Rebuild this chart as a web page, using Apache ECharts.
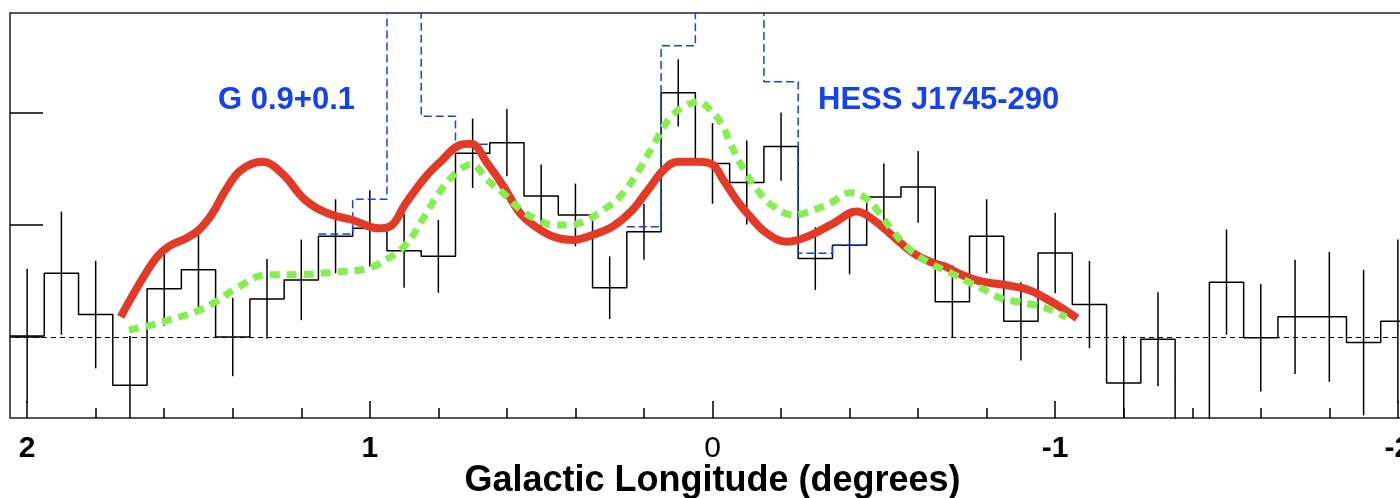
<!DOCTYPE html>
<html>
<head>
<meta charset="utf-8">
<title>Galactic longitude profile</title>
<script src="https://cdn.jsdelivr.net/npm/echarts@6/dist/echarts.min.js"></script>
<style>
  html, body { margin: 0; padding: 0; background: #fff; }
  #chart { width: 1400px; height: 498px; }
</style>
</head>
<body>
<div id="chart"></div>
<script>
// histogram bins (galactic longitude, deg) and excess per bin
const binCenters = [2.0, 1.9, 1.8, 1.7, 1.6, 1.5, 1.4, 1.3, 1.2, 1.1, 1.0, 0.9, 0.8, 0.7, 0.6, 0.5, 0.4, 0.3, 0.2, 0.1, 0.0,
  -0.1, -0.2, -0.3, -0.4, -0.5, -0.6, -0.7, -0.8, -0.9, -1.0, -1.1, -1.2, -1.3, -1.4, -1.5, -1.6, -1.7, -1.8, -1.9, -2.0]
const counts = [0.01, 0.57, 0.20, -0.43, 0.43, 0.60, 0.0, 0.34, 0.51, 0.90, 0.97, 0.77, 0.72, 1.64, 1.735, 1.26, 1.09, 0.44, 0.94, 2.18, 1.55,
  1.38, 1.70, 0.70, 0.82, 1.25, 1.34, 0.315, 0.90, 0.14, 0.75, 0.29, -0.41, -0.02, -1.3, 0.49, -0.006, 0.18, 0.18, -0.05, 0.14]
const countErrors = [0.60, 0.55, 0.48, 0.44, 0.33, 0.335, 0.35, 0.356, 0.36, 0.33, 0.34, 0.33, 0.325, 0.31, 0.30, 0.28, 0.28, 0.28, 0.25, 0.30, 0.36,
  0.375, 0.305, 0.28, 0.26, 0.30, 0.32, 0.325, 0.33, 0.35, 0.36, 0.39, 0.42, 0.42, 0.45, 0.47, 0.48, 0.51, 0.58, 0.65, 0.73]

// bins before source subtraction (blue dashed)
const g09Centers = [1.1, 1.0, 0.9, 0.8, 0.7]
const g09Counts = [0.92, 1.23, 3.6, 1.97, 1.72]
const hessCenters = [0.2, 0.1, 0.0, -0.1, -0.2, -0.3, -0.4]
const hessCounts = [0.985, 2.60, 3.6, 3.6, 2.28, 0.747, 0.821]

// smooth model profiles
const redX = [1.727, 1.683, 1.625, 1.586, 1.537, 1.499, 1.46, 1.421, 1.376, 1.314, 1.256, 1.187, 1.119, 1.051, 0.973, 0.935,
  0.896, 0.837, 0.789, 0.74, 0.705, 0.657, 0.609, 0.56, 0.516, 0.464, 0.407, 0.35, 0.292, 0.238, 0.189, 0.14, 0.101, 0.042,
  0.0, -0.032, -0.071, -0.11, -0.159, -0.217, -0.276, -0.353, -0.421, -0.47, -0.528, -0.587, -0.645, -0.68, -0.729, -0.778,
  -0.855, -0.923, -0.972, -1.021, -1.064]
const redY = [0.18, 0.42, 0.70, 0.81, 0.88, 0.955, 1.10, 1.31, 1.49, 1.565, 1.46, 1.22, 1.10, 1.045, 0.97, 1.0,
  1.19, 1.43, 1.58, 1.71, 1.725, 1.55, 1.34, 1.10, 0.985, 0.896, 0.866, 0.911, 0.985, 1.12, 1.31, 1.50, 1.565, 1.565,
  1.54, 1.40, 1.22, 1.074, 0.926, 0.851, 0.896, 1.015, 1.12, 1.045, 0.896, 0.747, 0.66, 0.628, 0.554, 0.50,
  0.464, 0.42, 0.345, 0.256, 0.167]
const greenX = [1.703, 1.645, 1.586, 1.508, 1.45, 1.392, 1.304, 1.207, 1.11, 1.012, 0.954, 0.896, 0.847, 0.799, 0.749, 0.703,
  0.657, 0.61, 0.559, 0.51, 0.464, 0.416, 0.367, 0.319, 0.27, 0.22, 0.17, 0.121, 0.076, 0.04, 0.014, -0.026, -0.052, -0.081,
  -0.131, -0.179, -0.237, -0.295, -0.343, -0.402, -0.441, -0.48, -0.528, -0.577, -0.64, -0.697, -0.745, -0.794, -0.842,
  -0.889, -0.94, -0.988, -1.032]
const greenY = [0.063, 0.101, 0.152, 0.226, 0.315, 0.43, 0.554, 0.557, 0.578, 0.608, 0.688, 0.82, 1.045, 1.283, 1.462, 1.54,
  1.402, 1.283, 1.134, 1.045, 1.0, 1.0, 1.045, 1.134, 1.253, 1.462, 1.729, 1.967, 2.07, 2.10, 2.05, 1.908, 1.729, 1.55,
  1.313, 1.164, 1.089, 1.134, 1.194, 1.289, 1.253, 1.134, 0.94, 0.777, 0.65, 0.569, 0.494, 0.42, 0.345,
  0.315, 0.286, 0.241, 0.176]

const xMajorTicks = [2, 1, 0, -1, -2]
const xMinorTicks = [1.8, 1.6, 1.4, 1.2, 0.8, 0.6, 0.4, 0.2, -0.2, -0.4, -0.6, -0.8, -1.2, -1.4, -1.6, -1.8]
const yTicks = [0, 1, 2]

const BIN_W = 0.1
const FONT = '"Liberation Sans", Arial, Helvetica, sans-serif'
const BLUE = '#1242f2'

const chart = echarts.init(document.getElementById('chart'))

function stepData(centers, values) {
  const pts = []
  centers.forEach((c, i) => {
    pts.push([c + BIN_W / 2, values[i]])
    pts.push([c - BIN_W / 2, values[i]])
  })
  return pts
}

function pairs(xs, ys) {
  return xs.map((x, i) => [x, ys[i]])
}

const xBase = {
  type: 'value',
  min: -2.05,
  max: 2.05,
  inverse: true,
  position: 'bottom',
  axisLine: { show: false, onZero: false },
  splitLine: { show: false }
}

const option = {
  animation: false,
  backgroundColor: '#fff',
  grid: {
    left: 10,
    top: 13,
    width: 1405,
    height: 405,
    outerBoundsMode: 'none',
    containLabel: false,
    show: true,
    borderColor: '#222',
    borderWidth: 1.5
  },
  xAxis: [
    {
      ...xBase,
      axisTick: { customValues: xMajorTicks, inside: true, length: 17, lineStyle: { color: '#000', width: 1.5 } },
      axisLabel: {
        customValues: xMajorTicks,
        margin: 16,
        color: '#000',
        fontFamily: FONT,
        fontSize: 30,
        fontWeight: 'bold',
        formatter: v => (v === 0 ? '{n|0}' : String(v)),
        rich: { n: { fontFamily: FONT, fontSize: 30, fontWeight: 'normal', color: '#000' } }
      },
      name: 'Galactic Longitude (degrees)',
      nameLocation: 'middle',
      nameGap: 45,
      nameMoveOverlap: false,
      nameTextStyle: { color: '#000', fontFamily: FONT, fontSize: 36, fontWeight: 'bold' }
    },
    {
      ...xBase,
      axisTick: { customValues: xMinorTicks, inside: true, length: 10, lineStyle: { color: '#000', width: 1.5 } },
      axisLabel: { show: false }
    }
  ],
  yAxis: {
    type: 'value',
    min: -0.7232,
    max: 2.893,
    axisLine: { show: false, onZero: false },
    splitLine: { show: false },
    axisTick: { customValues: yTicks, inside: true, length: 33, lineStyle: { color: '#000', width: 1.5 } },
    axisLabel: { show: false }
  },
  graphic: [
    { type: 'text', x: 218, y: 100, style: { text: 'G 0.9+0.1', fill: BLUE, font: 'bold 31px ' + FONT, verticalAlign: 'middle' } },
    { type: 'text', x: 818, y: 100, style: { text: 'HESS J1745-290', fill: BLUE, font: 'bold 31px ' + FONT, verticalAlign: 'middle' } }
  ],
  series: [
    {
      name: 'excess',
      type: 'line',
      data: stepData(binCenters, counts),
      showSymbol: false,
      clip: true,
      lineStyle: { color: '#000', width: 1.5 },
      z: 2,
      markLine: {
        silent: true,
        symbol: ['none', 'none'],
        label: { show: false },
        lineStyle: { color: '#000', width: 1, type: [5, 4] },
        data: [{ yAxis: 0 }]
      }
    },
    {
      name: 'errors',
      type: 'custom',
      data: binCenters.map((c, i) => [c, counts[i], countErrors[i]]),
      z: 2,
      renderItem(params, api) {
        const x = api.value(0)
        const v = api.value(1)
        const e = api.value(2)
        const top = api.coord([x, v + e])
        const bot = api.coord([x, v - e])
        const cs = params.coordSys
        const y1 = Math.max(top[1], cs.y)
        const y2 = Math.min(bot[1], cs.y + cs.height)
        if (y1 >= y2) return null
        return {
          type: 'line',
          shape: { x1: top[0], y1: y1, x2: top[0], y2: y2 },
          style: { stroke: '#000', lineWidth: 1.5 }
        }
      }
    },
    {
      name: 'G 0.9+0.1 bins',
      type: 'line',
      data: stepData(g09Centers, g09Counts),
      showSymbol: false,
      clip: true,
      lineStyle: { color: BLUE, width: 1.5, type: [8, 4] },
      z: 3
    },
    {
      name: 'HESS J1745-290 bins',
      type: 'line',
      data: stepData(hessCenters, hessCounts),
      showSymbol: false,
      clip: true,
      lineStyle: { color: BLUE, width: 1.5, type: [8, 4] },
      z: 3
    },
    {
      name: 'model A',
      type: 'line',
      data: pairs(redX, redY),
      smooth: 0.4,
      showSymbol: false,
      lineStyle: { color: '#e23a26', width: 8 },
      z: 4
    },
    {
      name: 'model B',
      type: 'line',
      data: pairs(greenX, greenY),
      smooth: 0.4,
      showSymbol: false,
      lineStyle: { color: '#86ee50', width: 7, type: [10, 7], cap: 'butt' },
      z: 5
    }
  ]
}

chart.setOption(option)
</script>
</body>
</html>
